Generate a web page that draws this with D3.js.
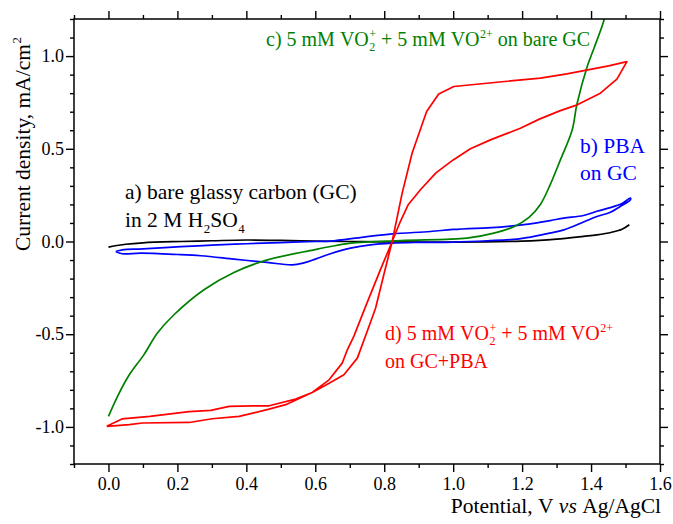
<!DOCTYPE html>
<html><head><meta charset="utf-8">
<script src="https://cdn.jsdelivr.net/npm/d3@7/dist/d3.min.js"></script>
<style>body{margin:0;background:#fff}svg{display:block}</style>
</head><body><svg id="chart" width="673" height="524"></svg>
<script>
// ---- data ----
const xTicks = [0.0, 0.2, 0.4, 0.6, 0.8, 1.0, 1.2, 1.4, 1.6];
const xMinorTicks = [-0.1, 0.1, 0.3, 0.5, 0.7, 0.9, 1.1, 1.3, 1.5];
const yTicks = [-1.0, -0.5, 0.0, 0.5, 1.0];
const yMinorTicks = [-1.2, -1.1, -0.9, -0.8, -0.7, -0.6, -0.4, -0.3, -0.2, -0.1, 0.1, 0.2, 0.3, 0.4, 0.6, 0.7, 0.8, 0.9, 1.1, 1.2];

// a) bare GC in H2SO4 (black)
const curveA = [[0.0,-0.03],[0.05,-0.015],[0.1,-0.007],[0.21,0.0],[0.3,0.004],[0.4,0.008],[0.5,0.006],[0.6,0.002],[0.7,0.0],[0.8,-0.002],[1.0,-0.003],[1.2,0.002],[1.25,0.006],[1.3,0.013],[1.378,0.028],[1.417,0.036],[1.46,0.05],[1.49,0.066],[1.511,0.09]];
// b) PBA on GC (blue loop)
const curveB = [[0.021,-0.054],[0.04,-0.045],[0.1,-0.04],[0.21,-0.028],[0.3,-0.02],[0.4,-0.012],[0.5,-0.006],[0.6,0.0],[0.644,0.002],[0.741,0.024],[0.823,0.041],[0.934,0.054],[1.0,0.065],[1.1,0.074],[1.137,0.078],[1.224,0.095],[1.282,0.113],[1.321,0.126],[1.378,0.14],[1.417,0.163],[1.456,0.183],[1.49,0.205],[1.514,0.234],
  [1.514,0.225],[1.49,0.195],[1.456,0.158],[1.417,0.135],[1.378,0.105],[1.321,0.063],[1.28,0.045],[1.224,0.024],[1.186,0.013],[1.1,0.004],[1.0,-0.003],[0.9,-0.005],[0.823,-0.009],[0.76,-0.018],[0.702,-0.036],[0.644,-0.066],[0.6,-0.095],[0.567,-0.115],[0.533,-0.126],[0.46,-0.113],[0.364,-0.095],[0.268,-0.077],[0.2,-0.07],[0.094,-0.063],[0.04,-0.066],[0.021,-0.054]];
// c) VO2+/VO2+ on bare GC (green)
const curveC = [[0.0,-0.943],[0.026,-0.836],[0.06,-0.72],[0.103,-0.61],[0.142,-0.494],[0.19,-0.395],[0.277,-0.26],[0.364,-0.167],[0.461,-0.099],[0.596,-0.045],[0.644,-0.027],[0.703,-0.009],[0.848,0.005],[1.04,0.018],[1.118,0.045],[1.176,0.08],[1.22,0.13],[1.253,0.2],[1.28,0.3],[1.311,0.44],[1.345,0.6],[1.359,0.74],[1.39,0.95],[1.408,1.04],[1.437,1.19],[1.445,1.26]];
// d) VO2+/VO2+ on GC+PBA (red loop)
const curveD = [[-0.005,-0.997],[0.039,-0.957],[0.12,-0.943],[0.234,-0.918],[0.297,-0.911],[0.35,-0.889],[0.42,-0.886],[0.466,-0.886],[0.543,-0.85],[0.591,-0.814],[0.64,-0.746],[0.678,-0.656],[0.693,-0.584],[0.712,-0.51],[0.746,-0.35],[0.789,-0.152],[0.823,0.0],[0.845,0.1],[0.87,0.2],[0.905,0.279],[0.95,0.37],[1.0,0.44],[1.05,0.5],[1.108,0.548],[1.195,0.611],[1.25,0.66],[1.311,0.706],[1.36,0.737],[1.427,0.8],[1.475,0.876],[1.504,0.97],
  [1.451,0.947],[1.33,0.904],[1.253,0.881],[1.127,0.859],[1.002,0.836],[0.958,0.795],[0.923,0.701],[0.881,0.477],[0.852,0.261],[0.823,0.0],[0.8,-0.17],[0.775,-0.359],[0.761,-0.431],[0.722,-0.629],[0.683,-0.719],[0.64,-0.765],[0.591,-0.814],[0.514,-0.88],[0.466,-0.904],[0.379,-0.943],[0.301,-0.956],[0.234,-0.976],[0.099,-0.979],[0.06,-0.988],[-0.005,-0.997]];

// ---- chart ----
const FONT = "'Liberation Serif','Times New Roman',serif";
const svg = d3.select("#chart");
const L = 74, R = 660, T = 19, B = 464;
const x = d3.scaleLinear().domain([-0.1, 1.6]).range([L, R]);
const y = d3.scaleLinear().domain([-1.2, 1.2]).range([B, T]);
const fmt = d => d.toFixed(1).replace("-0.0", "0.0");

function styleAxis(g) {
  g.select(".domain").remove();
  g.selectAll("line").attr("stroke", "#000").attr("stroke-width", 1.4);
  g.selectAll("text").attr("font-family", FONT).attr("font-size", 18).attr("fill", "#000");
}
svg.append("g").attr("transform", `translate(0,${B})`)
  .call(d3.axisBottom(x).tickValues(xTicks).tickFormat(fmt).tickSize(8).tickPadding(5)).call(styleAxis);
svg.append("g").attr("transform", `translate(0,${B})`)
  .call(d3.axisBottom(x).tickValues(xMinorTicks).tickFormat("").tickSize(4)).call(styleAxis);
svg.append("g").attr("transform", `translate(0,${T})`)
  .call(d3.axisTop(x).tickValues(xTicks).tickFormat("").tickSize(8)).call(styleAxis);
svg.append("g").attr("transform", `translate(0,${T})`)
  .call(d3.axisTop(x).tickValues(xMinorTicks).tickFormat("").tickSize(4)).call(styleAxis);
svg.append("g").attr("transform", `translate(${L},0)`)
  .call(d3.axisLeft(y).tickValues(yTicks).tickFormat(fmt).tickSize(8).tickPadding(2)).call(styleAxis);
svg.append("g").attr("transform", `translate(${L},0)`)
  .call(d3.axisLeft(y).tickValues(yMinorTicks).tickFormat("").tickSize(4)).call(styleAxis);
svg.append("g").attr("transform", `translate(${R},0)`)
  .call(d3.axisRight(y).tickValues(yTicks).tickFormat("").tickSize(8)).call(styleAxis);
svg.append("g").attr("transform", `translate(${R},0)`)
  .call(d3.axisRight(y).tickValues(yMinorTicks).tickFormat("").tickSize(4)).call(styleAxis);

svg.append("clipPath").attr("id", "plotclip").append("rect")
  .attr("x", L).attr("y", T).attr("width", R - L).attr("height", B - T);

const line = d3.line().x(d => x(d[0])).y(d => y(d[1]));
const smooth = d3.line().x(d => x(d[0])).y(d => y(d[1])).curve(d3.curveCatmullRom.alpha(0.5));
const plot = svg.append("g").attr("clip-path", "url(#plotclip)");
plot.append("path").datum(curveA).attr("d", smooth).attr("fill", "none").attr("stroke", "#000000").attr("stroke-width", 1.7);
plot.append("path").datum(curveB).attr("d", smooth).attr("fill", "none").attr("stroke", "#0000ff").attr("stroke-width", 1.7);
plot.append("path").datum(curveC).attr("d", smooth).attr("fill", "none").attr("stroke", "#008000").attr("stroke-width", 1.7);
plot.append("path").datum(curveD).attr("d", line).attr("fill", "none").attr("stroke", "#ff0000").attr("stroke-width", 1.7).attr("stroke-linejoin", "round");

svg.append("rect").attr("x", L).attr("y", T).attr("width", R - L).attr("height", B - T)
  .attr("fill", "none").attr("stroke", "#000").attr("stroke-width", 1.5);

// rich text helper
function rich(x0, y0, runs, size, color, opts = {}) {
  const g = svg.append("g").attr("font-family", FONT).attr("fill", color);
  let cx = 0;
  const nb = s => s.replace(/ /g, "\u00A0");
  const sc = 0.6;
  runs.forEach(r => {
    if (r.t !== undefined) {
      const t = g.append("text").attr("x", cx).attr("y", 0).attr("font-size", size)
        .attr("font-style", r.i ? "italic" : null).text(nb(r.t));
      cx += t.node().getComputedTextLength();
    } else {
      let w = 0;
      if (r.sup !== undefined) {
        const t = g.append("text").attr("x", cx + 0.5).attr("y", -size * 0.4).attr("font-size", size * sc).text(r.sup);
        w = Math.max(w, t.node().getComputedTextLength() + 0.5);
      }
      if (r.sub !== undefined) {
        const t = g.append("text").attr("x", cx + 0.5).attr("y", size * 0.26).attr("font-size", size * sc).text(r.sub);
        w = Math.max(w, t.node().getComputedTextLength() + 0.5);
      }
      cx += w;
    }
  });
  if (opts.rotate) {
    g.attr("transform", `translate(${x0},${y0 + cx}) rotate(-90)`);
  } else if (opts.anchorEnd) {
    g.attr("transform", `translate(${x0 - cx},${y0})`);
  } else {
    g.attr("transform", `translate(${x0},${y0})`);
  }
  return cx;
}

const S = 21.5, S2 = 20;
rich(266, 46, [{t: "c) 5 mM VO"}, {sub: "2", sup: "+"}, {t: " + 5 mM VO"}, {sup: "2+"}, {t: " on bare GC"}], S2, "#008000");
rich(125, 199, [{t: "a) bare glassy carbon (GC)"}], S, "#000");
rich(125, 227, [{t: "in 2 M H"}, {sub: "2"}, {t: "SO"}, {sub: "4"}], S, "#000");
rich(580, 153, [{t: "b) PBA"}], S, "#0000ff");
rich(580, 180, [{t: "on GC"}], S, "#0000ff");
rich(385, 340, [{t: "d) 5 mM VO"}, {sub: "2", sup: "+"}, {t: " + 5 mM VO"}, {sup: "2+"}], S2, "#ff0000");
rich(385, 368, [{t: "on GC+PBA"}], S2, "#ff0000");

rich(661, 513, [{t: "Potential, V "}, {t: "vs", i: true}, {t: " Ag/AgCl"}], S, "#000", {anchorEnd: true});
rich(30, 37, [{t: "Current density, mA/cm"}, {sup: "2"}], S, "#000", {rotate: true});
</script></body></html>
